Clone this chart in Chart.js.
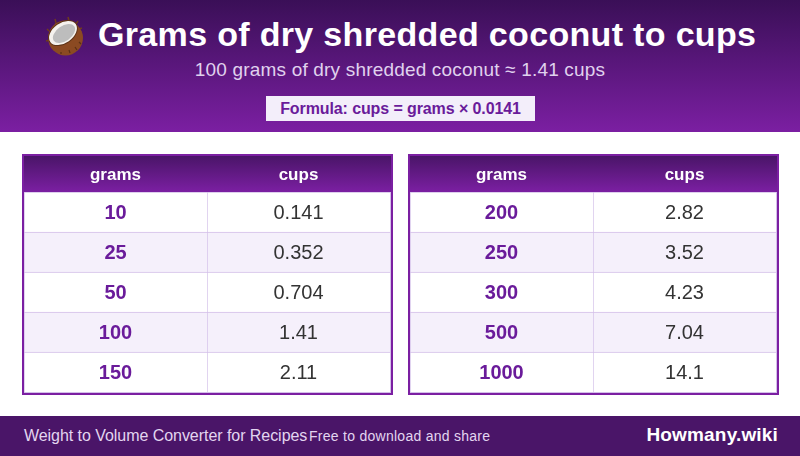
<!DOCTYPE html>
<html>
<head>
    <title>Grams of dry shredded coconut to cups</title>
    <script src="https://cdn.jsdelivr.net/npm/chart.js"></script>
    <style>
        html, body {
            margin: 0;
            padding: 0;
            width: 800px;
            height: 456px;
            overflow: hidden;
            background-color: #fff;
            font-family: "Liberation Sans", Arial, sans-serif;
        }
        .top {
            position: absolute;
            left: 0;
            top: 0;
            width: 800px;
            height: 132px;
            background: linear-gradient(180deg, #3a0f57 0%, #7b1fa2 100%);
        }
        .top svg {
            position: absolute;
            left: 45px;
            top: 16px;
        }
        .top h1 {
            position: absolute;
            left: 98px;
            top: 13px;
            margin: 0;
            color: #fff;
            font-size: 34px;
            letter-spacing: 0.33px;
            line-height: 42px;
            white-space: nowrap;
        }
        .sub {
            position: absolute;
            left: 0;
            top: 59px;
            width: 800px;
            text-align: center;
            color: #e0d2ee;
            font-size: 19px;
            letter-spacing: 0.18px;
            line-height: 22px;
        }
        .formula {
            position: absolute;
            left: 266px;
            top: 96px;
            width: 269px;
            height: 25px;
            line-height: 25px;
            text-align: center;
            background-color: #f3eefa;
            color: #6a1b9a;
            font-size: 16px;
            letter-spacing: -0.1px;
            font-weight: bold;
        }
        .box {
            position: absolute;
            top: 154px;
            width: 367px;
            height: 237px;
            border: 2px solid #7b1fa2;
        }
        .box canvas {
            display: block;
        }
        .bottom {
            position: absolute;
            left: 0;
            top: 416px;
            width: 800px;
            height: 40px;
            background-color: #4a1568;
            color: #e3d5f0;
        }
        .bottom span {
            position: absolute;
            white-space: nowrap;
        }
    </style>
</head>
<body>
    <div class="top">
        <svg width="40" height="42" viewBox="0 0 40 42" role="img" aria-label="coconut">
            <path d="M2 13 L4 15 M1 25 L5 24 M10 3 L11 7 M23 1 L24 5 M33 5 L31 8 M37 12 L34 13" stroke="#6f3d1c" stroke-width="1.5"/>
            <circle cx="20.5" cy="22" r="17.5" fill="#8b4a22"/>
            <path d="M24 34 L25 37 M30 31 L32 34 M16 36 L16 38 M34 26 L36 28" stroke="#5a3014" stroke-width="1.2"/>
            <ellipse cx="18" cy="17" rx="16.5" ry="11" transform="rotate(-35 18 17)" fill="#5f3418"/>
            <ellipse cx="18" cy="17" rx="15.5" ry="10" transform="rotate(-35 18 17)" fill="#f5f2ee"/>
            <ellipse cx="19" cy="17.5" rx="12.5" ry="7.5" transform="rotate(-35 19 17.5)" fill="#bdbdbd"/>
        </svg>
        <h1>Grams of dry shredded coconut to cups</h1>
        <div class="sub">100 grams of dry shredded coconut ≈ 1.41 cups</div>
        <div class="formula">Formula: cups = grams × 0.0141</div>
    </div>

    <div class="box" style="left:22px"><canvas id="tableLeft" width="367" height="237"></canvas></div>
    <div class="box" style="left:408px"><canvas id="tableRight" width="367" height="237"></canvas></div>

    <div class="bottom">
        <span style="left:24px;top:10px;font-size:16px;letter-spacing:-0.05px;line-height:20px">Weight to Volume Converter for Recipes</span>
        <span style="left:309px;top:11px;font-size:14px;letter-spacing:0.27px;line-height:18px">Free to download and share</span>
        <span style="right:22px;top:7px;font-size:19px;letter-spacing:0.17px;line-height:24px;font-weight:bold;color:#fff">Howmany.wiki</span>
    </div>

    <script>
        const columns = ['grams', 'cups'];
        const gramsLeft = ['10', '25', '50', '100', '150'];
        const cupsLeft = ['0.141', '0.352', '0.704', '1.41', '2.11'];
        const gramsRight = ['200', '250', '300', '500', '1000'];
        const cupsRight = ['2.82', '3.52', '4.23', '7.04', '14.1'];

        const LINE = '#d3bfe9';
        const STRIPE = '#f5f0fb';

        // header band, closing lines of the grid and the text of the cells
        const tablePlugin = {
            id: 'tablePlugin',
            beforeDraw(chart) {
                const ctx = chart.ctx;
                const top = chart.chartArea.top;
                const g = ctx.createLinearGradient(0, 0, 0, top);
                g.addColorStop(0, '#4a1568');
                g.addColorStop(1, '#7b1fa2');
                ctx.fillStyle = g;
                ctx.fillRect(0, 0, chart.width, top);
            },
            afterDatasetsDraw(chart) {
                const ctx = chart.ctx;
                const area = chart.chartArea;
                ctx.fillStyle = LINE;
                ctx.fillRect(area.right, area.top, 1, area.bottom - area.top + 1);
                ctx.fillRect(area.left, area.bottom, area.right - area.left, 1);

                ctx.textAlign = 'center';
                ctx.textBaseline = 'middle';
                chart.data.datasets.forEach(function (ds, i) {
                    ctx.font = (i === 0 ? 'bold ' : '') + '20px "Liberation Sans"';
                    ctx.fillStyle = i === 0 ? '#6a1b9a' : '#333333';
                    chart.getDatasetMeta(i).data.forEach(function (bar, j) {
                        const c = bar.getCenterPoint();
                        ctx.fillText(ds.cells[j], c.x, c.y + 1);
                    });
                });
            }
        };

        function drawTable(id, grams, cups) {
            const stripes = grams.map(function (g, i) { return i % 2 ? STRIPE : '#ffffff'; });
            const cell = {
                backgroundColor: stripes,
                borderColor: LINE,
                borderWidth: { top: 1, left: 1, right: 0, bottom: 0 },
                borderSkipped: false,
                barPercentage: 1,
                categoryPercentage: 1
            };
            return new Chart(document.getElementById(id), {
                type: 'bar',
                data: {
                    labels: grams,
                    datasets: [
                        Object.assign({ label: columns[0], data: grams.map(function () { return 1; }), cells: grams }, cell),
                        Object.assign({ label: columns[1], data: cups.map(function () { return 1; }), cells: cups }, cell)
                    ]
                },
                options: {
                    indexAxis: 'y',
                    responsive: false,
                    animation: false,
                    layout: { padding: { right: 1, bottom: 1 } },
                    plugins: { legend: { display: false }, tooltip: { enabled: false } },
                    scales: {
                        x: {
                            type: 'linear',
                            position: 'top',
                            stacked: true,
                            min: 0,
                            max: columns.length,
                            grid: { display: false, drawTicks: false },
                            border: { display: false },
                            afterBuildTicks(axis) {
                                axis.ticks = columns.map(function (c, i) { return { value: i + 0.5 }; });
                            },
                            afterFit(axis) {
                                axis.height = 36;
                            },
                            ticks: {
                                color: '#ffffff',
                                font: { family: '"Liberation Sans"', size: 17, weight: 'bold' },
                                padding: 6,
                                maxRotation: 0,
                                autoSkip: false,
                                callback(value) {
                                    return columns[Math.floor(value)];
                                }
                            }
                        },
                        y: {
                            type: 'category',
                            stacked: true,
                            display: false
                        }
                    }
                },
                plugins: [tablePlugin]
            });
        }

        drawTable('tableLeft', gramsLeft, cupsLeft);
        drawTable('tableRight', gramsRight, cupsRight);
    </script>
</body>
</html>
